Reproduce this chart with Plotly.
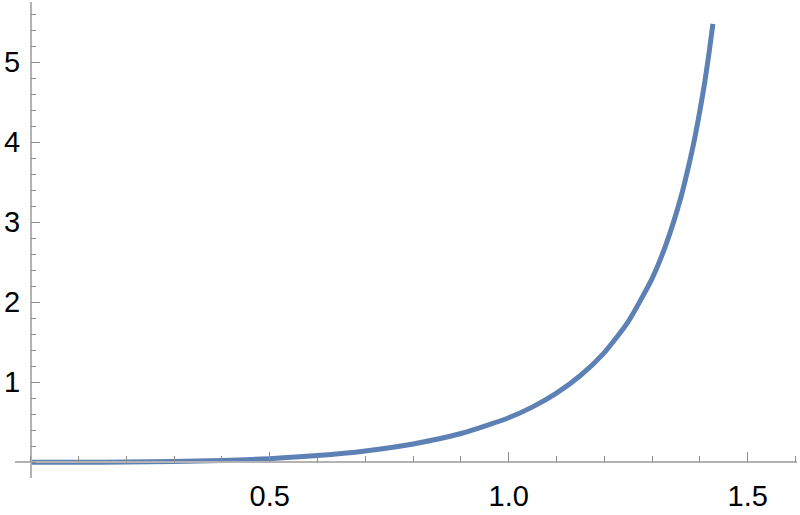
import plotly.graph_objects as go

# values
x_vals = [0.0, 0.1, 0.2, 0.3, 0.4, 0.5, 0.6, 0.7, 0.8, 0.9, 1.0, 1.05, 1.1, 1.15,
          1.2, 1.25, 1.3, 1.33, 1.36, 1.38, 1.39, 1.4, 1.41, 1.42, 1.427]
y_vals = [0.0, 0.0003, 0.0027, 0.0093, 0.0228, 0.046, 0.084, 0.142, 0.23, 0.36, 0.557,
          0.693, 0.865, 1.085, 1.372, 1.76, 2.30, 2.74, 3.31, 3.80, 4.08, 4.40, 4.75,
          5.16, 5.48]

x_tick_vals = [0.5, 1.0, 1.5]
x_tick_text = ["0.5", "1.0", "1.5"]
y_tick_vals = [1, 2, 3, 4, 5]
y_tick_text = ["1", "2", "3", "4", "5"]

x_range = [-0.0328, 1.603]
y_range = [-0.196, 5.754]

line_color = "#5E81B5"
axis_color = "#b3b3b3"
tick_color = "#8c8c8c"
font = dict(family="Liberation Sans, Arial, sans-serif", size=29, color="#000000")

fig = go.Figure()
fig.add_trace(go.Scatter(x=x_vals, y=y_vals, mode="lines",
                         line=dict(color=line_color, width=5, shape="spline", smoothing=0.6),
                         showlegend=False, hoverinfo="skip"))

xpos = (0 - y_range[0]) / (y_range[1] - y_range[0])
ypos = (0 - x_range[0]) / (x_range[1] - x_range[0])

fig.update_layout(
    width=800, height=515,
    margin=dict(l=15, r=3, t=2, b=37, pad=0, autoexpand=False),
    paper_bgcolor="white", plot_bgcolor="white",
    font=font,
    xaxis=dict(range=x_range, showgrid=False, zeroline=False, automargin=False,
               showline=True, linecolor=axis_color, linewidth=1.5,
               anchor="free", position=xpos,
               tickmode="array", tickvals=x_tick_vals, ticktext=x_tick_text,
               ticks="inside", ticklen=10, tickwidth=1.2, tickcolor=tick_color,
               ticklabelstandoff=8, tickfont=font,
               minor=dict(tickmode="linear", tick0=0, dtick=0.1, ticks="inside",
                          ticklen=6, tickwidth=1, tickcolor=tick_color)),
    yaxis=dict(range=y_range, showgrid=False, zeroline=False, automargin=False,
               showline=True, linecolor=axis_color, linewidth=1.5,
               anchor="free", position=ypos,
               tickmode="array", tickvals=y_tick_vals, ticktext=y_tick_text,
               ticks="inside", ticklen=9, tickwidth=1.2, tickcolor=tick_color,
               ticklabelstandoff=4, tickfont=font,
               minor=dict(tickmode="linear", tick0=0, dtick=0.2, ticks="inside",
                          ticklen=5, tickwidth=1, tickcolor=tick_color)),
)

fig.write_html("out.html", config={"displayModeBar": False},
               post_script="document.body.style.margin='0';document.body.style.padding='0';")
